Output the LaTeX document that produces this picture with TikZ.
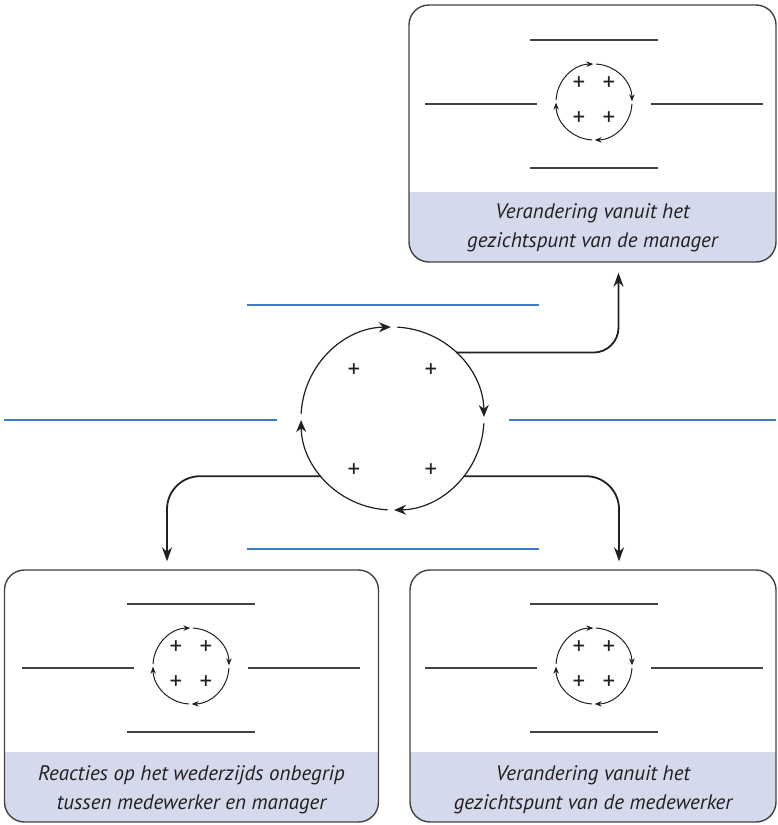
\documentclass[tikz,border=0pt]{standalone}
\usepackage{fontspec}
\setsansfont{PT Sans}
\usetikzlibrary{arrows.meta, positioning, calc}
\definecolor{bandblue}{HTML}{D5D9EC}
\definecolor{lineblue}{HTML}{3D7CC2}
\definecolor{ink}{HTML}{231F20}
\tikzset{
  panel/.style={draw=ink!85, line width=1.4pt, rounded corners=20pt, inner sep=0pt,
    path picture={\fill[bandblue, sharp corners] (path picture bounding box.south west) rectangle ([yshift=70pt]path picture bounding box.south east);}},
  caption/.style={font=\sffamily\itshape\fontsize{21}{28.5}\selectfont, text=ink, align=center},
  blueline/.style={draw=lineblue, line width=1.4pt},
  greyline/.style={draw=ink!85, line width=1.1pt},
  cycarrow/.style={draw=ink, line width=1.2pt, -{Stealth[length=12pt,width=10pt]}},
  minarrow/.style={draw=ink, line width=1pt, -{Stealth[length=7pt,width=5.5pt]}},
  flow/.style={draw=ink, line width=1.8pt, -{Stealth[length=14pt,width=10pt]}},
  plus/.style={font=\sffamily\fontsize{25}{25}\selectfont, text=ink, inner sep=0pt}
}
\begin{document}
\begin{tikzpicture}[x=1pt, y=-1pt]
  \useasboundingbox (0,0) rectangle (777,825);
  % panels
  \node[panel, minimum width=367pt, minimum height=257pt] (mgr) at (592.5,133.5) {};
  \node[panel, minimum width=374pt, minimum height=252pt] (rea) at (191.5,696) {};
  \node[panel, minimum width=366pt, minimum height=252pt] (wrk) at (593,696) {};
  \node[caption] (mgrtxt) at ([yshift=35pt]mgr.south) {Verandering vanuit het\\gezichtspunt van de manager};
  \node[caption] (reatxt) at ([yshift=33pt]rea.south) {Reacties op het wederzijds onbegrip\\tussen medewerker en manager};
  \node[caption] (wrktxt) at ([yshift=33pt]wrk.south) {Verandering vanuit het\\gezichtspunt van de medewerker};
  % small cycles in the panels
  \foreach \nm/\cx/\cy in {m/594/104, r/191/668, w/594/668}{
    \draw[greyline] (\cx-64,\cy-64) -- (\cx+64,\cy-64);
    \draw[greyline] (\cx-64,\cy+64) -- (\cx+64,\cy+64);
    \draw[greyline] (\cx-169,\cy) -- (\cx-57,\cy);
    \draw[greyline] (\cx+57,\cy) -- (\cx+169,\cy);
    \node[circle, minimum size=76pt, inner sep=0pt] (\nm cyc) at (\cx,\cy-2) {};
    \foreach \a in {0,90,180,270}
      \draw[minarrow] ($(\nm cyc)+(\a+87:38pt)$) arc[start angle=\a+87, end angle=\a+1, radius=38pt];
    \foreach \px/\py in {-15/-18, 15/-18, -15/17, 15/17}
      \node[plus] at ($(\nm cyc)+(\px,\py)$) {+};
  }
  % big cycle
  \draw[blueline] (247,305) -- (539,305);
  \draw[blueline] (4,420) -- (277,420);
  \draw[blueline] (509,420) -- (776,420);
  \draw[blueline] (247,549) -- (539,549);
  \node[circle, minimum size=183pt, inner sep=0pt] (cyc) at (392.5,418.5) {};
  \foreach \a in {0,90,180,270}
    \draw[cycarrow] ($(cyc)+(\a+87:91.5pt)$) arc[start angle=\a+87, end angle=\a+1, radius=91.5pt];
  \foreach \px/\py in {-38.5/-47.5, 38.5/-47.5, -38.5/52.5, 38.5/52.5}
    \node[plus] at ($(cyc)+(\px,\py)$) {+};
  % connectors
  \draw[flow, rounded corners=25pt, shorten >=10pt] (cyc.46) -| ([xshift=26pt]mgr.south);
  \draw[flow, rounded corners=33pt, shorten >=8pt] (cyc.219) -| ([xshift=-24.5pt]rea.north);
  \draw[flow, rounded corners=33pt, shorten >=8pt] (cyc.-39) -| ([xshift=26pt]wrk.north);
\end{tikzpicture}
\end{document}
